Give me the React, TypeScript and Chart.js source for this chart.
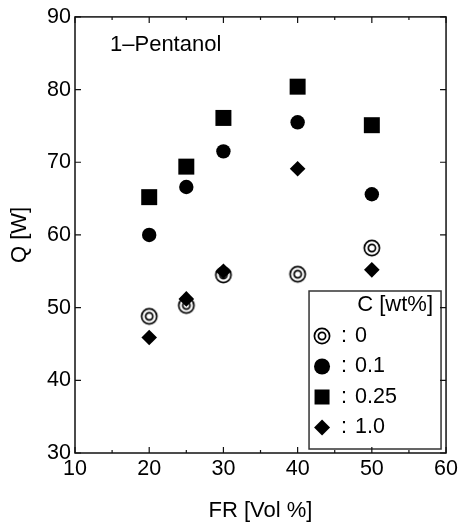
import React, { useEffect, useRef } from 'react';
import { Chart, registerables } from 'chart.js';

Chart.register(...registerables);

// ---- data ----
const FR = [20, 25, 30, 40, 50];
const Q_C0 = [48.8, 50.3, 54.5, 54.6, 58.2];
const Q_C01 = [60.0, 66.6, 71.5, 75.5, 65.6];
const Q_C025 = [65.2, 69.4, 76.1, 80.4, 75.1];
const Q_C10 = [45.9, 51.2, 55.0, 69.1, 55.2];
const SERIES_LABELS = ['0', '0.1', '0.25', '1.0'];
const X_MIN = 10, X_MAX = 60, X_STEP = 10, X_MINOR = 5;
const Y_MIN = 30, Y_MAX = 90, Y_STEP = 10;
const TITLE_TEXT = '1\u2013Pentanol';
const LEGEND_TITLE = 'C [wt%]';
const X_TITLE = 'FR [Vol %]';
const Y_TITLE = 'Q [W]';

const FONT = '"Liberation Sans", Arial, Helvetica, sans-serif';

function makeDoubleCircle(): HTMLCanvasElement {
  const c = document.createElement('canvas');
  c.width = 20;
  c.height = 20;
  const g = c.getContext('2d')!;
  g.strokeStyle = '#000';
  g.lineWidth = 1.7;
  g.beginPath();
  g.arc(10, 10, 7.6, 0, Math.PI * 2);
  g.stroke();
  g.beginPath();
  g.arc(10, 10, 3.6, 0, Math.PI * 2);
  g.stroke();
  return c;
}

function drawSymbol(ctx: CanvasRenderingContext2D, kind: string, x: number, y: number, img: HTMLCanvasElement) {
  ctx.save();
  ctx.fillStyle = '#000';
  if (kind === 'dc') {
    ctx.drawImage(img, Math.round(x - img.width / 2), Math.round(y - img.height / 2));
  } else if (kind === 'circle') {
    ctx.beginPath();
    ctx.arc(x, y, 8, 0, Math.PI * 2);
    ctx.fill();
  } else if (kind === 'rect') {
    ctx.fillRect(x - 7.5, y - 7.5, 15, 15);
  } else if (kind === 'diamond') {
    ctx.beginPath();
    ctx.moveTo(x - 8, y);
    ctx.lineTo(x, y - 8);
    ctx.lineTo(x + 8, y);
    ctx.lineTo(x, y + 8);
    ctx.closePath();
    ctx.fill();
  }
  ctx.restore();
}

export default function App() {
  const ref = useRef<HTMLCanvasElement | null>(null);

  useEffect(() => {
    if (!ref.current) return;
    const dc = makeDoubleCircle();
    const kinds = ['dc', 'circle', 'rect', 'diamond'];

    const framePlugin = {
      id: 'frameTicks',
      afterDatasetsDraw(chart: any) {
        const { ctx, chartArea: a, scales } = chart;
        const xs = scales.x, ys = scales.y;
        ctx.save();
        // title text
        ctx.fillStyle = '#000';
        ctx.font = `22px ${FONT}`;
        ctx.textAlign = 'left';
        ctx.textBaseline = 'alphabetic';
        ctx.fillText(TITLE_TEXT, a.left + 35, a.top + 34);

        // legend
        const bx = a.right - 137, by = a.bottom - 162, bw = 132, bh = 158;
        ctx.fillStyle = '#fff';
        ctx.fillRect(bx, by, bw, bh);
        ctx.strokeStyle = '#333';
        ctx.lineWidth = 1.5;
        ctx.strokeRect(bx, by, bw, bh);
        ctx.fillStyle = '#000';
        ctx.font = `22px ${FONT}`;
        ctx.textBaseline = 'middle';
        ctx.textAlign = 'right';
        ctx.fillText(LEGEND_TITLE, bx + 124, by + 14);
        ctx.textAlign = 'left';
        ctx.font = `21.5px ${FONT}`;
        SERIES_LABELS.forEach((lab, i) => {
          const yy = by + 45 + i * 30.5;
          drawSymbol(ctx, kinds[i], bx + 13, yy, dc);
          ctx.fillText(':', bx + 32, yy);
          ctx.fillText(lab, bx + 46, yy);
        });

        // frame
        ctx.strokeStyle = '#111';
        ctx.lineWidth = 1.5;
        ctx.strokeRect(a.left, a.top, a.right - a.left, a.bottom - a.top);

        // inward ticks
        ctx.lineWidth = 1.2;
        ctx.beginPath();
        for (let v = X_MIN; v <= X_MAX; v += X_MINOR) {
          const px = xs.getPixelForValue(v);
          const len = (v - X_MIN) % X_STEP === 0 ? 6 : 3;
          ctx.moveTo(px, a.bottom);
          ctx.lineTo(px, a.bottom - len);
          ctx.moveTo(px, a.top);
          ctx.lineTo(px, a.top + len);
        }
        for (let v = Y_MIN; v <= Y_MAX; v += Y_STEP) {
          const py = ys.getPixelForValue(v);
          ctx.moveTo(a.left, py);
          ctx.lineTo(a.left + 6, py);
          ctx.moveTo(a.right, py);
          ctx.lineTo(a.right - 6, py);
        }
        ctx.stroke();
        ctx.restore();
      },
    };

    const mk = (arr: number[]) => FR.map((x, i) => ({ x, y: arr[i] }));

    const chart = new Chart(ref.current, {
      type: 'scatter',
      data: {
        datasets: [
          { label: SERIES_LABELS[0], data: mk(Q_C0), pointStyle: dc as any, pointRadius: 8, backgroundColor: '#000', borderColor: '#000' },
          { label: SERIES_LABELS[1], data: mk(Q_C01), pointStyle: 'circle', pointRadius: 7.2, backgroundColor: '#000', borderColor: '#000', borderWidth: 0 },
          { label: SERIES_LABELS[2], data: mk(Q_C025), pointStyle: 'rect', pointRadius: 11.3, backgroundColor: '#000', borderColor: '#000', borderWidth: 0 },
          { label: SERIES_LABELS[3], data: mk(Q_C10), pointStyle: 'rectRot', pointRadius: 7.8, backgroundColor: '#000', borderColor: '#000', borderWidth: 0 },
        ],
      },
      options: {
        responsive: false,
        animation: false,
        layout: { padding: { top: 16, right: 12, left: 0, bottom: 0 } },
        plugins: { legend: { display: false }, tooltip: { enabled: false } },
        scales: {
          x: {
            type: 'linear',
            min: X_MIN,
            max: X_MAX,
            afterFit: (s: any) => { s.height = 69; },
            ticks: { stepSize: X_STEP, color: '#000', padding: 3, font: { family: FONT, size: 21.5 }, maxRotation: 0 },
            grid: { display: false, drawTicks: false },
            border: { display: false },
            title: { display: true, text: X_TITLE, color: '#000', font: { family: FONT, size: 22, lineHeight: 1 }, padding: { top: 0, bottom: 0 } },
          },
          y: {
            type: 'linear',
            min: Y_MIN,
            max: Y_MAX,
            afterFit: (s: any) => { s.width = 75; },
            ticks: { stepSize: Y_STEP, color: '#000', padding: 4, font: { family: FONT, size: 21.5 } },
            grid: { display: false, drawTicks: false },
            border: { display: false },
            title: { display: true, text: Y_TITLE, color: '#000', font: { family: FONT, size: 22, lineHeight: 1.2 }, padding: { top: 7, bottom: 0 } },
          },
        },
      },
      plugins: [framePlugin],
    } as any);

    return () => chart.destroy();
  }, []);

  return (
    <div style={{ position: 'absolute', left: 0, top: 0, width: 461, height: 522, background: '#fff' }}>
      <canvas ref={ref} width={461} height={522} style={{ display: 'block', width: 461, height: 522 }} />
    </div>
  );
}
